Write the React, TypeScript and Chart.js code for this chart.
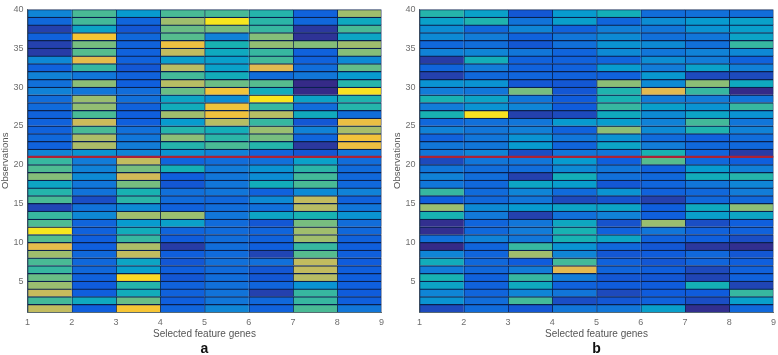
import React, { useEffect, useRef } from "react";
import { Chart, registerables } from "chart.js";

Chart.register(...registerables);

// Each column lists rows from the top (39..40) down to the bottom (1..2).
const aCol1 = [.25,.15,.05,.13,.05,.04,.26,.13,.24,.18,.24,.17,.16,.13,.13,.13,.15,.13,.25,.5,.54,.62,.38,.47,.53,.06,.5,.54,1,.55,.8,.66,.53,.5,.58,.65,.73,.52,.72];
const aCol2 = [.53,.52,.37,.87,.6,.55,.8,.5,.2,.63,.2,.65,.64,.53,.74,.53,.68,.68,.3,.22,.24,.27,.2,.19,.08,.19,.26,.14,.13,.12,.12,.15,.15,.15,.13,.11,.12,.4,.12];
const aCol3 = [.33,.14,.1,.15,.13,.13,.13,.1,.13,.12,.17,.18,.13,.12,.12,.18,.2,.22,.25,.72,.6,.75,.6,.45,.48,.27,.66,.33,.42,.5,.68,.72,.38,.35,.95,.47,.42,.58,.87];
const aCol4 = [.53,.66,.58,.55,.83,.72,.35,.7,.52,.7,.58,.38,.42,.66,.33,.47,.63,.47,.3,.14,.44,.12,.1,.18,.16,.13,.65,.36,.14,.11,.04,.12,.1,.12,.1,.13,.13,.12,.14];
const aCol5 = [.53,1,.6,.24,.45,.4,.35,.36,.42,.58,.85,.28,.85,.84,.7,.43,.48,.53,.24,.17,.22,.2,.2,.2,.15,.17,.2,.16,.16,.17,.17,.16,.18,.16,.17,.18,.19,.2,.25];
const aCol6 = [.47,.48,.5,.62,.64,.5,.52,.78,.17,.55,.42,1,.5,.7,.5,.65,.6,.47,.14,.18,.3,.28,.42,.13,.27,.18,.38,.1,.14,.13,.12,.06,.18,.1,.1,.14,.05,.15,.13];
const aCol7 = [.13,.15,.03,.02,.62,.13,.13,.17,.2,0,0,.37,.17,.41,.1,.24,.14,.03,.1,.36,.48,.52,.53,.27,.72,.7,.45,.6,.66,.66,.5,.55,.72,.72,.7,.3,.5,.5,.53];
const aCol8 = [.66,.4,.53,.38,.66,.62,.27,.57,.33,.47,.98,.46,.47,.17,.82,.67,.85,.83,.2,.17,.16,.15,.15,.24,.13,.2,.3,.17,.15,.13,.12,.12,.11,.12,.12,.12,.11,.12,.2];

const bCol1 = [.47,.36,.28,.27,.15,.24,.04,.14,.05,.3,.22,.45,.22,.45,.15,.24,.13,.2,.2,.07,.2,.24,.2,.5,.12,.65,.45,.01,.01,.18,0,.25,.42,.22,.45,.37,.25,.3,.07];
const bCol2 = [.36,.46,.15,.22,.17,.25,.43,.22,.15,.3,.2,.37,.3,.98,.18,.2,.2,.2,.25,.2,.17,.17,.15,.16,.15,.27,.21,.14,.15,.24,.14,.14,.15,.15,.13,.13,.14,.17,.16];
const bCol3 = [.1,.19,.25,.13,.1,.2,.13,.13,.14,.1,.6,.2,.25,.05,.2,.23,.3,.33,.08,.2,.17,.05,.38,.25,.2,.33,.05,.2,.22,.2,.5,.66,.11,.22,.5,.4,.25,.52,.1];
const bCol4 = [.33,.35,.13,.2,.18,.14,.13,.13,.13,.1,.1,.11,.11,.07,.33,.13,.2,.14,.2,.33,.27,.43,.34,.16,.07,.37,.18,.39,.45,.45,.3,.25,.52,.78,.22,.13,.2,.08,.2];
const bCol5 = [.43,.14,.23,.27,.3,.27,.14,.33,.13,.63,.46,.45,.5,.4,.34,.63,.3,.37,.2,.12,.2,.18,.1,.3,.09,.37,.24,.09,.13,.38,.15,.1,.13,.14,.1,.11,.07,.1,.2];
const bCol6 = [.17,.28,.2,.18,.27,.2,.28,.22,.32,.27,.78,.22,.35,.27,.24,.27,.16,.22,.45,.55,.13,.15,.14,.13,.05,.12,.12,.65,.2,.13,.1,.11,.1,.12,.1,.11,.11,.13,.35];
const bCol7 = [.18,.33,.3,.2,.18,.24,.22,.36,.07,.63,.5,.22,.3,.37,.52,.46,.13,.15,.14,.15,.33,.42,.2,.15,.15,.4,.35,.08,.13,.12,.03,.15,.14,.07,.06,.44,.11,.08,.01];
const bCol8 = [.17,.36,.35,.37,.5,.26,.13,.23,.07,.4,0,.2,.5,.3,.2,.24,.17,.15,.04,.12,.23,.47,.25,.22,.15,.63,.38,.12,.13,.08,.01,.1,.12,.13,.13,.06,.5,.35,.15];

const panelA = [aCol1, aCol2, aCol3, aCol4, aCol5, aCol6, aCol7, aCol8];
const panelB = [bCol1, bCol2, bCol3, bCol4, bCol5, bCol6, bCol7, bCol8];

const xTicks = [1, 2, 3, 4, 5, 6, 7, 8, 9];
const yTicks = [5, 10, 15, 20, 25, 30, 35, 40];
const splitAt = 21;
const xTitle = "Selected feature genes";
const yTitle = "Observations";

const parula = [
  [53, 42, 135], [15, 92, 221], [18, 125, 216], [7, 156, 207], [21, 177, 180],
  [89, 189, 140], [165, 190, 107], [225, 185, 82], [250, 200, 46], [248, 230, 30],
];

function colour(v: number) {
  const p = Math.min(0.9999, Math.max(0, v)) * (parula.length - 1);
  const i = Math.floor(p);
  const t = p - i;
  const c = parula[i].map((a, k) => Math.round(a + (parula[i + 1][k] - a) * t));
  return `rgb(${c[0]},${c[1]},${c[2]})`;
}

function build(canvas: HTMLCanvasElement, columns: number[][], label: string) {
  const bars = columns.map((col, c) => ({
    type: "bar" as const,
    order: 2,
    data: col.map((_, i) => ({ x: [xTicks[c], xTicks[c + 1]], y: 39.5 - i })),
    backgroundColor: col.map(colour),
    borderColor: "rgb(10,32,78)",
    borderWidth: { top: 1.25, left: 1.15, right: c === columns.length - 1 ? 1 : 0, bottom: 0 },
    borderSkipped: false,
    inflateAmount: 0.4,
    grouped: false,
    barPercentage: 1,
    categoryPercentage: 1,
  }));
  const red = {
    type: "line" as const,
    order: 1,
    data: [{ x: xTicks[0], y: splitAt }, { x: xTicks[xTicks.length - 1], y: splitAt }],
    borderColor: "#ad2233",
    borderWidth: 2.4,
    pointRadius: 0,
  };
  return new Chart(canvas, {
    data: { datasets: [...bars, red] as any },
    options: {
      animation: false,
      responsive: false,
      indexAxis: "y",
      layout: { padding: { left: 0, right: 6, top: 8.7, bottom: 0 } },
      plugins: {
        legend: { display: false },
        tooltip: { enabled: false },
        title: {
          display: true,
          text: label,
          position: "bottom",
          fullSize: false,
          color: "#111",
          font: { family: "Liberation Sans", size: 14, weight: "bold" },
          padding: { top: 0, bottom: 0 },
        },
      },
      scales: {
        x: {
          type: "linear",
          min: 1,
          max: 9,
          offset: false,
          afterBuildTicks: (s: any) => { s.ticks = xTicks.map((value) => ({ value })); },
          afterFit: (s: any) => { s.height = 29; },
          grid: { display: false, drawTicks: false },
          border: { display: true, color: "#5a6a70", width: 1 },
          ticks: { color: "#6e6e6e", font: { family: "Liberation Sans", size: 9 }, padding: 5, maxRotation: 0, autoSkip: false },
          title: { display: true, text: xTitle, color: "#555", font: { family: "Liberation Sans", size: 10 }, padding: { top: 2, bottom: 0.5 } },
        },
        y: {
          type: "linear",
          min: 1,
          max: 40,
          offset: false,
          afterBuildTicks: (s: any) => { s.ticks = yTicks.map((value) => ({ value })); },
          afterFit: (s: any) => { s.width = 27.5; },
          grid: { display: false, drawTicks: false },
          border: { display: true, color: "#5a6a70", width: 1 },
          ticks: { color: "#6e6e6e", font: { family: "Liberation Sans", size: 9 }, padding: 4, autoSkip: false },
          title: { display: true, text: yTitle, color: "#555", font: { family: "Liberation Sans", size: 9.6 }, padding: { top: 0, bottom: 4 } },
        },
      },
    },
  } as any);
}

const canvasStyle = (left: number): React.CSSProperties => ({
  position: "absolute",
  left,
  top: 0,
  width: 389,
  height: 358,
  filter: "blur(0.35px)",
});

export default function App() {
  const aRef = useRef<HTMLCanvasElement>(null);
  const bRef = useRef<HTMLCanvasElement>(null);
  useEffect(() => {
    const a = build(aRef.current!, panelA, "a");
    const b = build(bRef.current!, panelB, "b");
    return () => {
      a.destroy();
      b.destroy();
    };
  }, []);
  return (
    <div style={{ position: "absolute", left: 0, top: 0, width: 778, height: 355, background: "#fff", overflow: "hidden" }}>
      <canvas ref={aRef} width={389} height={358} style={canvasStyle(0)} />
      <canvas ref={bRef} width={389} height={358} style={canvasStyle(391.8)} />
    </div>
  );
}
